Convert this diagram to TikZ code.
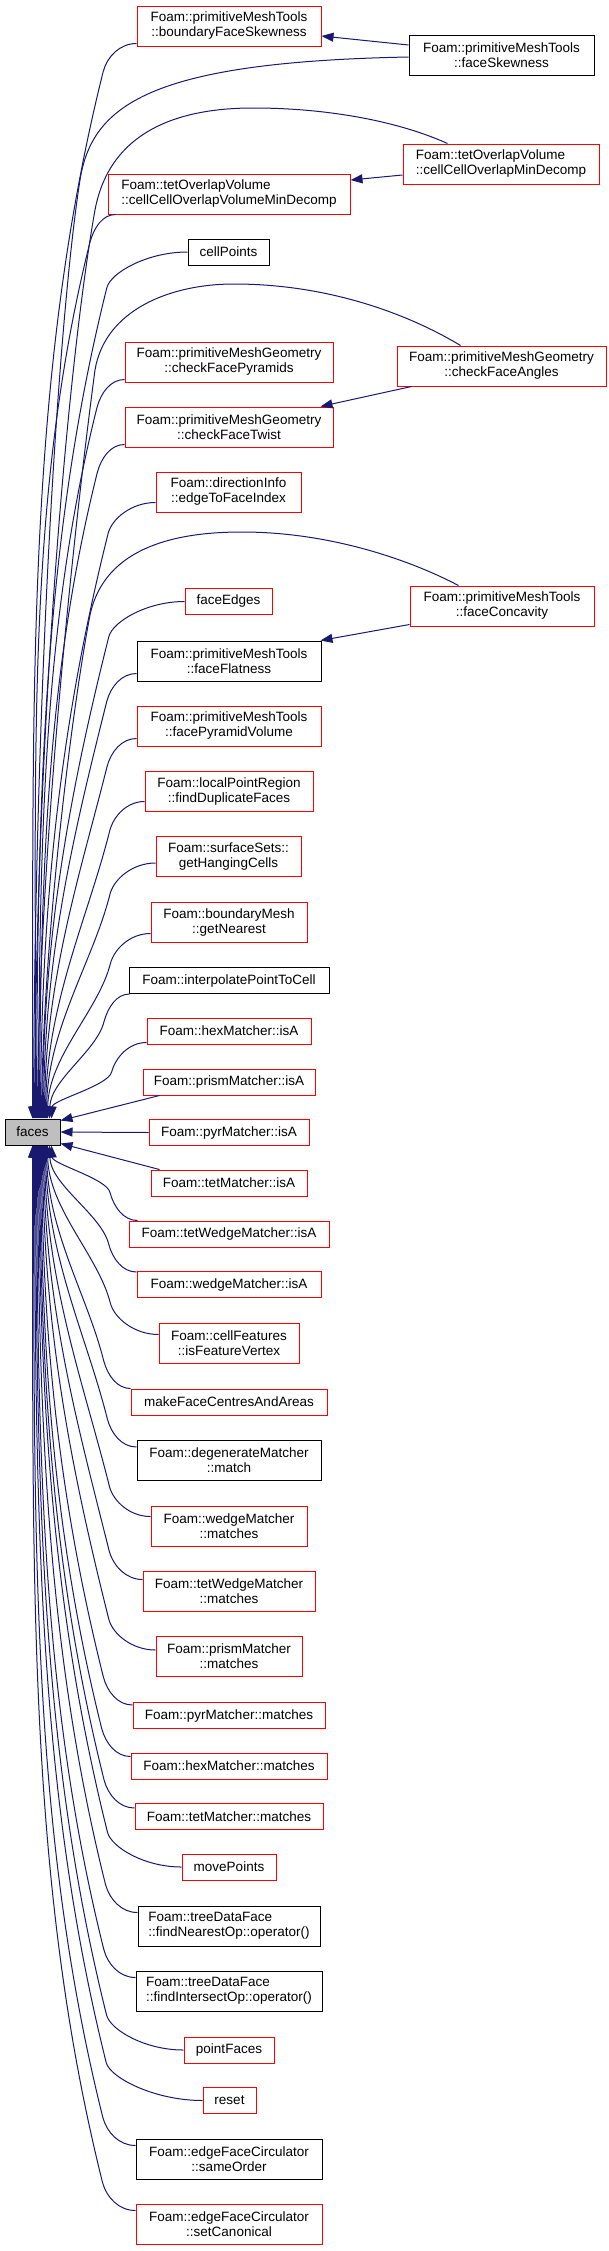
\documentclass[tikz,border=0pt]{standalone}
\usepackage{fontspec}
\setmainfont{Liberation Sans}
\usetikzlibrary{arrows.meta,calc}
\definecolor{edgecol}{HTML}{191970}
\definecolor{facegray}{HTML}{BFBFBF}
\newcommand\nodefont{\fontsize{13.5}{15}\selectfont}
\tikzset{
  nbox/.style={draw, line width=1pt, inner sep=0pt, align=center, font=\nodefont, text=black, fill=white},
  rbox/.style={nbox, draw=red},
  kbox/.style={nbox, draw=black},
  two/.style={minimum height=40pt},
  one/.style={minimum height=26pt},
  calledge/.style={draw=edgecol, line width=1pt, arrows={Triangle[length=12pt,width=9pt]-}},
}
\newcommand\fedge[2]{%
  \draw[calledge] let \p1=(#1), \p2=(#2),
    \n1={ifthenelse(\y2>\y1,1,-1)},
    \n5={28+0.15*max(0,\x2-137pt)},
    \n2={abs(\y2-\y1)-\n5},
    \n3={\x1+0.68*(min(\x2,140pt)-\x1)},
    \n4={\y2-\n1*\n5}
  in (\p1) .. controls ({\x1+1pt},{\y1+\n1*0.4*\n2*1pt})
         and ({(\n3-0.075*\n2)*1pt},{(\n4-\n1*0.3*\n2)*1pt})
     .. ({\n3*1pt},{\n4*1pt})
     .. controls ({(\n3+4)*1pt},{(\n4+\n1*15)*1pt})
         and ({\n3*1pt+0.5*(\x2-\n3*1pt)},{\y2})
     .. (\p2);}
\begin{document}
\begin{tikzpicture}[x=1pt,y=-1pt]
\fill[white] (0,0) rectangle (608,2251);
\useasboundingbox (0,0) rectangle (608,2251);
% nodes
\node[rbox,two,minimum width=184pt] (bfs) at (229,26) {Foam::primitiveMeshTools\\::boundaryFaceSkewness};
\node[kbox,two,minimum width=185pt] (fsk) at (501.5,55) {Foam::primitiveMeshTools\\::faceSkewness};
\node[rbox,two,minimum width=196pt,align=left] (ccomd) at (501,164) {Foam::tetOverlapVolume\\::cellCellOverlapMinDecomp};
\node[rbox,two,minimum width=242pt,align=left] (ccovmd) at (229,194) {Foam::tetOverlapVolume\\::cellCellOverlapVolumeMinDecomp};
\node[kbox,one,minimum width=81pt] (cellpts) at (228.5,252) {cellPoints};
\node[rbox,two,minimum width=208pt] (cfp) at (229,362) {Foam::primitiveMeshGeometry\\::checkFacePyramids};
\node[rbox,two,minimum width=209pt] (cfa) at (501.5,366) {Foam::primitiveMeshGeometry\\::checkFaceAngles};
\node[rbox,two,minimum width=208pt] (cft) at (229,427) {Foam::primitiveMeshGeometry\\::checkFaceTwist};
\node[rbox,two,minimum width=145pt] (etfi) at (228.5,492) {Foam::directionInfo\\::edgeToFaceIndex};
\node[rbox,one,minimum width=87pt] (fedges) at (228.5,601.5) {faceEdges};
\node[rbox,two,minimum width=184pt] (fcon) at (502,606) {Foam::primitiveMeshTools\\::faceConcavity};
\node[kbox,two,minimum width=184pt] (fflat) at (229,661) {Foam::primitiveMeshTools\\::faceFlatness};
\node[rbox,two,minimum width=184pt] (fpv) at (229,726) {Foam::primitiveMeshTools\\::facePyramidVolume};
\node[rbox,two,minimum width=168pt] (fdf) at (229,791) {Foam::localPointRegion\\::findDuplicateFaces};
\node[rbox,two,minimum width=145pt] (ghc) at (228.5,856.5) {Foam::surfaceSets::\\getHangingCells};
\node[rbox,two,minimum width=156pt] (gn) at (229,922) {Foam::boundaryMesh\\::getNearest};
\node[kbox,one,minimum width=200pt] (iptc) at (229,980.5) {Foam::interpolatePointToCell};
\node[rbox,one,minimum width=164pt] (hexisa) at (229,1031) {Foam::hexMatcher::isA};
\node[rbox,one,minimum width=172pt] (prismisa) at (229,1082) {Foam::prismMatcher::isA};
\node[kbox,one,fill=facegray,minimum width=55pt] (faces) at (32.5,1132) {faces};
\node[rbox,one,minimum width=160pt] (pyrisa) at (229,1132.5) {Foam::pyrMatcher::isA};
\node[rbox,one,minimum width=156pt] (tetisa) at (229,1183) {Foam::tetMatcher::isA};
\node[rbox,one,minimum width=200pt] (twisa) at (229,1234) {Foam::tetWedgeMatcher::isA};
\node[rbox,one,minimum width=184pt] (wisa) at (229,1284.5) {Foam::wedgeMatcher::isA};
\node[rbox,two,minimum width=140pt] (isfv) at (229,1343) {Foam::cellFeatures\\::isFeatureVertex};
\node[rbox,one,minimum width=196pt] (mfca) at (229,1402) {makeFaceCentresAndAreas};
\node[kbox,two,minimum width=184pt] (degm) at (229,1460.5) {Foam::degenerateMatcher\\::match};
\node[rbox,two,minimum width=156pt] (wm) at (229,1526) {Foam::wedgeMatcher\\::matches};
\node[rbox,two,minimum width=172pt] (twm) at (229,1591) {Foam::tetWedgeMatcher\\::matches};
\node[rbox,two,minimum width=146pt] (pm) at (229,1656.5) {Foam::prismMatcher\\::matches};
\node[rbox,one,minimum width=192pt] (pym) at (229,1715.5) {Foam::pyrMatcher::matches};
\node[rbox,one,minimum width=196pt] (hm) at (229,1766) {Foam::hexMatcher::matches};
\node[rbox,one,minimum width=188pt] (tm) at (229,1816.5) {Foam::tetMatcher::matches};
\node[rbox,one,minimum width=94pt] (mp) at (229,1867) {movePoints};
\node[kbox,two,minimum width=182pt,align=left] (fno) at (229,1926) {Foam::treeDataFace\\::findNearestOp::operator()};
\node[kbox,two,minimum width=186pt,align=left] (fio) at (229,1991) {Foam::treeDataFace\\::findIntersectOp::operator()};
\node[rbox,one,minimum width=90pt] (pf) at (229,2050) {pointFaces};
\node[rbox,one,minimum width=53pt] (reset) at (229.5,2100.5) {reset};
\node[kbox,two,minimum width=186pt] (so) at (229,2159) {Foam::edgeFaceCirculator\\::sameOrder};
\node[rbox,two,minimum width=186pt] (sc) at (229,2224) {Foam::edgeFaceCirculator\\::setCanonical};
% node to node edges
\draw[calledge] ([yshift=-10pt]bfs.east) -- ([yshift=10pt]fsk.west);
\draw[calledge] ([yshift=14pt]ccovmd.east) -- ([yshift=-11pt]ccomd.west);
\draw[calledge] ([xshift=-13pt]cft.north east) -- ([xshift=15pt]cfa.south west);
\draw[calledge] ([xshift=-1pt]fflat.north east) -- ([yshift=2pt]fcon.south west);
% right nodes to faces
\draw[calledge] ([xshift=29pt]faces.north west) .. controls (35,700) and (58,320) .. (80,180) .. controls (92,105) and (150,62) .. ([yshift=-2pt]fsk.west);
\draw[calledge] ([xshift=30pt]faces.north west) .. controls (37,700) and (70,350) .. (95,210) .. controls (110,130) and (180,108) .. (253,108) .. controls (330,108) and (400,122) .. ([xshift=45pt]ccomd.north west);
\draw[calledge] ([xshift=33pt]faces.north west) .. controls (39,850) and (75,520) .. (95,370) .. controls (105,310) and (170,284) .. (234,284) .. controls (330,284) and (410,315) .. ([xshift=64pt]cfa.north west);
\draw[calledge] ([xshift=37pt]faces.north west) .. controls (43,950) and (70,720) .. (90,615) .. controls (105,545) and (180,532) .. (242,532) .. controls (330,532) and (410,560) .. ([xshift=49pt]fcon.north west);
% near edges
\draw[calledge] ([yshift=-2pt]faces.north east) -- ([xshift=17pt]prismisa.south west);
\draw[calledge] (faces.east) -- (pyrisa.west);
\draw[calledge] ([yshift=2pt]faces.south east) -- ([xshift=9pt]tetisa.north west);
% top callers
\fedge{[xshift=28pt]faces.north west}{[yshift=3pt]bfs.south west}
\fedge{[xshift=31pt]faces.north west}{[xshift=8pt]ccovmd.south west}
\fedge{[xshift=32pt]faces.north west}{cellpts.west}
\fedge{[xshift=34pt]faces.north west}{[yshift=3pt]cfp.south west}
\fedge{[xshift=35pt]faces.north west}{[yshift=3pt]cft.south west}
\fedge{[xshift=36pt]faces.north west}{[yshift=10pt]etfi.south west}
\fedge{[xshift=38pt]faces.north west}{fedges.west}
\fedge{[xshift=39pt]faces.north west}{[yshift=8pt]fflat.south west}
\fedge{[xshift=40pt]faces.north west}{[yshift=8pt]fpv.south west}
\fedge{[xshift=41pt]faces.north west}{[yshift=10pt]fdf.south west}
\fedge{[xshift=42pt]faces.north west}{[yshift=14pt]ghc.south west}
\fedge{[xshift=43pt]faces.north west}{[yshift=9pt]gn.south west}
\fedge{[xshift=45pt]faces.north west}{[xshift=1pt]iptc.south west}
\fedge{[xshift=47pt]faces.north west}{[yshift=2pt]hexisa.south west}
% bottom callers
\fedge{[xshift=47pt]faces.south west}{[xshift=9pt]twisa.north west}
\fedge{[xshift=45pt]faces.south west}{[yshift=-1pt]wisa.north west}
\fedge{[xshift=43pt]faces.south west}{[yshift=-12pt]isfv.north west}
\fedge{[xshift=42pt]faces.south west}{mfca.north west}
\fedge{[xshift=41pt]faces.south west}{[yshift=-7pt]degm.north west}
\fedge{[xshift=40pt]faces.south west}{[yshift=-11pt]wm.north west}
\fedge{[xshift=39pt]faces.south west}{[yshift=-9pt]twm.north west}
\fedge{[xshift=38pt]faces.south west}{[yshift=-14pt]pm.north west}
\fedge{[xshift=37pt]faces.south west}{[yshift=-3pt]pym.north west}
\fedge{[xshift=36pt]faces.south west}{[yshift=-4pt]hm.north west}
\fedge{[xshift=35pt]faces.south west}{[yshift=-5pt]tm.north west}
\fedge{[xshift=34pt]faces.south west}{mp.west}
\fedge{[xshift=33pt]faces.south west}{[yshift=-7pt]fno.north west}
\fedge{[xshift=32pt]faces.south west}{[yshift=-7pt]fio.north west}
\fedge{[xshift=31pt]faces.south west}{pf.west}
\fedge{[xshift=30pt]faces.south west}{reset.west}
\fedge{[xshift=29pt]faces.south west}{[yshift=-7pt]so.north west}
\fedge{[xshift=28pt]faces.south west}{[yshift=-7pt]sc.north west}
\end{tikzpicture}
\end{document}
